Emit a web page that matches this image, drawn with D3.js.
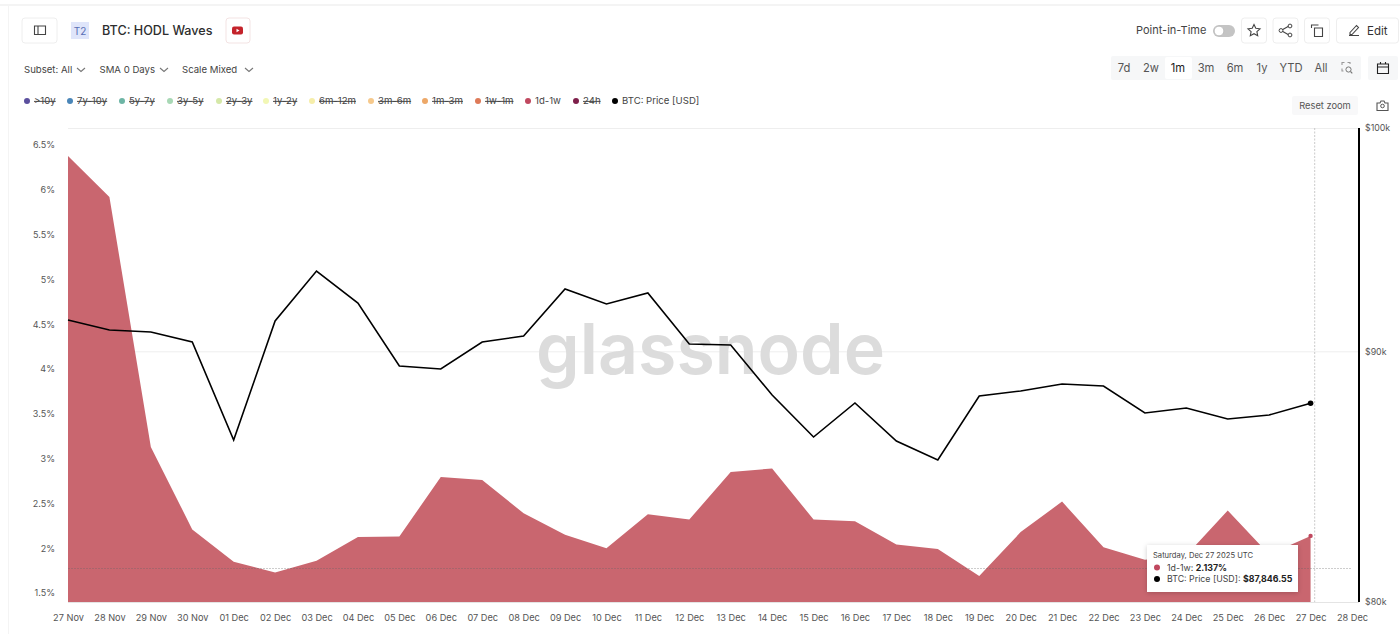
<!DOCTYPE html>
<html>
<head>
<meta charset="utf-8">
<title>BTC: HODL Waves</title>
<script src="https://cdn.jsdelivr.net/npm/d3@7/dist/d3.min.js"></script>
<style>
  html, body { margin: 0; padding: 0; background: #fff; }
  svg { display: block; font-family: Inter, "Noto Sans", sans-serif; }
  .axis path, .axis line { display: none; }
  .axis text { fill: #555; font-family: Inter, sans-serif; }
</style>
</head>
<body>
<svg id="chart" width="1400" height="634"></svg>
<script>
const dates = ['27 Nov', '28 Nov', '29 Nov', '30 Nov', '01 Dec', '02 Dec', '03 Dec', '04 Dec', '05 Dec', '06 Dec', '07 Dec',
  '08 Dec', '09 Dec', '10 Dec', '11 Dec', '12 Dec', '13 Dec', '14 Dec', '15 Dec', '16 Dec', '17 Dec', '18 Dec', '19 Dec',
  '20 Dec', '21 Dec', '22 Dec', '23 Dec', '24 Dec', '25 Dec', '26 Dec', '27 Dec', '28 Dec']
const share1d1w = [6.377, 5.92, 3.13, 2.21, 1.85, 1.73, 1.86, 2.125, 2.13, 2.795, 2.76, 2.39, 2.15, 2.0, 2.38, 2.32, 2.85,
  2.89, 2.32, 2.30, 2.04, 1.99, 1.69, 2.18, 2.52, 2.01, 1.87, 1.92, 2.42, 1.93, 2.137]
const btcPrice = [91358, 90928, 90843, 90417, 86340, 91314, 93490, 92092, 89401, 89275, 90417, 90672, 92701, 92048, 92526,
  90332, 90289, 88189, 86462, 87857, 86299, 85531, 88147, 88355, 88646, 88563, 87445, 87651, 87198, 87362, 87846.55]
const leftTicks = [1.5, 2, 2.5, 3, 3.5, 4, 4.5, 5, 5.5, 6, 6.5]
const rightTicks = [80000, 90000, 100000]
const legendNames = ['>10y', '7y-10y', '5y-7y', '3y-5y', '2y-3y', '1y-2y', '6m-12m', '3m-6m', '1m-3m', '1w-1m', '1d-1w', '24h', 'BTC: Price [USD]']
const legendColors = ['#5b4f9e', '#4a86b8', '#6db5a5', '#a8d8b5', '#d5e8a8', '#f2f7b5', '#f6eeaa', '#f6c98c', '#eda868', '#de7a58', '#c0485f', '#7e1f4a', '#000']
const legendActive = ['1d-1w', 'BTC: Price [USD]']
const legendX = [27, 70, 122, 170, 219, 266, 312, 371, 425, 478, 528, 576, 615]
const ranges = ['7d', '2w', '1m', '3m', '6m', '1y', 'YTD', 'All']
const rangeX = [1124, 1151, 1178, 1206, 1235, 1262, 1291, 1321]

const plotTop = 128, plotBottom = 602, plotLeft = 68, plotRight = 1359
const svg = d3.select('#chart')

const x = d3.scalePoint().domain(dates).range([68, 1352])
const yShare = d3.scaleLinear().domain([1.5, 6.5]).range([593, 145])
const yPrice = d3.scaleLog().domain([80000, 100000]).range([plotBottom, plotTop])

// page edges
svg.append('line').attr('x1', 0).attr('x2', 1400).attr('y1', 5).attr('y2', 5).attr('stroke', '#f0f0f0').attr('stroke-width', 1.5)
svg.append('line').attr('x1', 8.5).attr('x2', 8.5).attr('y1', 5).attr('y2', 634).attr('stroke', '#f4f4f4')

// ---- header ----
function box(x0, y0, w, h, fill, stroke) {
  return svg.append('rect').attr('x', x0).attr('y', y0).attr('width', w).attr('height', h).attr('rx', 3)
    .attr('fill', fill || '#fff').attr('stroke', stroke || '#eee')
}
function label(txt, x0, y0, size, color, anchor) {
  return svg.append('text').attr('x', x0).attr('y', y0).attr('dy', '0.35em').attr('font-size', size)
    .attr('fill', color || '#444').attr('text-anchor', anchor || 'start').text(txt)
}
function icon(d, tx, ty, color) {
  return svg.append('path').attr('d', d).attr('transform', `translate(${tx},${ty})`)
    .attr('fill', 'none').attr('stroke', color || '#444').attr('stroke-width', 1.1)
}

box(22, 18, 35, 25)
icon('M0 0h11v8.5h-11zM3.5 0v8.5', 34.5, 26)
svg.append('rect').attr('x', 71).attr('y', 22).attr('width', 18).attr('height', 17).attr('fill', '#dfe5fa')
label('T2', 80, 31, 10, '#5a6fb5', 'middle')
label('BTC: HODL Waves', 102, 30.5, 12.6, '#2e2e2e').attr('font-weight', 500)
box(226, 18, 24, 25, '#fff', '#f3e3e3')
svg.append('rect').attr('x', 232).attr('y', 26.5).attr('width', 11).attr('height', 8).attr('rx', 2).attr('fill', '#c4232b')
svg.append('path').attr('d', 'M236.5 28.7l3 1.8-3 1.8z').attr('fill', '#fff')

const filters = [['Subset: All', 24, 77], ['SMA 0 Days', 99.5, 160], ['Scale Mixed', 182, 245]]
filters.forEach(f => {
  label(f[0], f[1], 69.5, 9.6, '#444')
  icon('M0 0l4 3.5 4-3.5', f[2], 68, '#777')
})

label('Point-in-Time', 1136, 30.5, 11, '#444')
svg.append('rect').attr('x', 1213).attr('y', 25).attr('width', 22).attr('height', 12).attr('rx', 6).attr('fill', '#c4c4c4')
svg.append('circle').attr('cx', 1219).attr('cy', 31).attr('r', 4.8).attr('fill', '#fff').attr('stroke', '#aaa').attr('stroke-width', 0.6)
box(1241.5, 18, 25, 25)
icon('M6 0l1.8 3.8 4.2.5-3.1 2.8.8 4.1L6 9.2l-3.7 2 .8-4.1L0 4.3l4.2-.5z', 1248, 24.5)
box(1273, 18, 25, 25)
icon('M0 5.5L8 1M0 5.5L8 10', 1281, 25)
svg.append('g').selectAll('circle').data([[1281, 30.5], [1290, 26], [1290, 35]]).join('circle')
  .attr('cx', d => d[0]).attr('cy', d => d[1]).attr('r', 1.9).attr('fill', '#fff').attr('stroke', '#444')
box(1304.5, 18, 25, 25)
icon('M0 3V0h7M3 3h8v8.5H3z', 1311.5, 25)
box(1336.5, 18, 62, 25)
icon('M0 11h10M1 8l6.5-7 2 2-6.5 7H1z', 1349, 24.5)
label('Edit', 1367, 30.5, 11.5, '#333')

svg.append('rect').attr('x', 1111).attr('y', 56).attr('width', 250).attr('height', 24).attr('rx', 2).attr('fill', '#f6f7f8')
svg.append('rect').attr('x', 1165).attr('y', 57).attr('width', 27).attr('height', 22).attr('rx', 2).attr('fill', '#fff')
ranges.forEach((r, i) => label(r, rangeX[i], 68, 11.2, r === '1m' ? '#222' : '#555', 'middle'))
icon('M0 2.5V0h2.5M5.5 0H8v1.5M0 6v2.5h1.5', 1342, 62.5, '#999')
svg.append('circle').attr('cx', 1348.5).attr('cy', 69.5).attr('r', 2.6).attr('fill', 'none').attr('stroke', '#777')
icon('M350.5 71.5l1.8 1.8', 1000, 0, '#777')
svg.append('rect').attr('x', 1368).attr('y', 56).attr('width', 30).attr('height', 24).attr('rx', 2).attr('fill', '#f6f7f8')
icon('M0 2h11v9.5H0zM0 5h11M3 0v2M8 0v2', 1377.5, 62, '#222')

svg.append('rect').attr('x', 1292).attr('y', 96).attr('width', 66).attr('height', 19).attr('rx', 2).attr('fill', '#f8f8f9')
label('Reset zoom', 1325, 105.5, 9.3, '#555', 'middle')
icon('M0 2h3l1-2h3l1 2h3v7.5H0z', 1377, 101, '#555')
svg.append('circle').attr('cx', 1382.5).attr('cy', 106).attr('r', 1.8).attr('fill', 'none').attr('stroke', '#555')

// ---- legend ----
const legend = svg.append('g').selectAll('g').data(legendNames).join('g')
  .attr('transform', (d, i) => `translate(${legendX[i]},101)`)
legend.append('circle').attr('r', 3).attr('fill', (d, i) => legendColors[i])
legend.append('text').attr('x', 7).attr('dy', '0.35em').attr('font-size', 9.6).attr('fill', '#444')
  .attr('text-decoration', d => legendActive.includes(d) ? 'none' : 'line-through')
  .text(d => d)

// ---- plot frame ----
svg.append('line').attr('x1', plotLeft).attr('x2', plotRight).attr('y1', plotTop + 0.5).attr('y2', plotTop + 0.5).attr('stroke', '#eee')
svg.append('line').attr('x1', plotLeft).attr('x2', plotRight).attr('y1', yPrice(90000)).attr('y2', yPrice(90000)).attr('stroke', '#eee')
svg.append('line').attr('x1', plotLeft).attr('x2', plotRight).attr('y1', plotBottom + 0.5).attr('y2', plotBottom + 0.5).attr('stroke', '#e4e4e4')

// watermark
svg.append('text').attr('x', 536).attr('y', 374).attr('font-family', 'Inter, sans-serif').attr('font-size', 70)
  .attr('font-weight', 600).attr('fill', '#dcdcdc').attr('textLength', 349).attr('lengthAdjust', 'spacingAndGlyphs').text('glassnode')

// ---- series ----
const area = d3.area().x((d, i) => x(dates[i])).y0(plotBottom).y1(d => yShare(d))
svg.append('path').datum(share1d1w).attr('d', area).attr('fill', '#c9666f')

const line = d3.line().x((d, i) => x(dates[i])).y(d => yPrice(d))
svg.append('path').datum(btcPrice).attr('d', line).attr('fill', 'none').attr('stroke', '#000').attr('stroke-width', 1.6)

// crosshair
const lastDate = dates[share1d1w.length - 1]
svg.append('line').attr('x1', 68).attr('x2', 1352).attr('y1', 568.5).attr('y2', 568.5)
  .attr('stroke', '#666').attr('stroke-opacity', 0.55).attr('stroke-width', 0.6).attr('stroke-dasharray', '2 1')
svg.append('line').attr('x1', 1314.7).attr('x2', 1314.7).attr('y1', plotTop).attr('y2', plotBottom)
  .attr('stroke', '#bbb').attr('stroke-width', 0.8).attr('stroke-dasharray', '2 1.5')
svg.append('circle').attr('cx', x(lastDate)).attr('cy', yShare(share1d1w[30])).attr('r', 2.2).attr('fill', '#c0485f')
svg.append('circle').attr('cx', x(lastDate)).attr('cy', yPrice(btcPrice[30])).attr('r', 2.8).attr('fill', '#000')

// ---- axes ----
svg.append('g').attr('class', 'axis').attr('transform', 'translate(55,0)')
  .call(d3.axisLeft(yShare).tickValues(leftTicks).tickSize(0).tickPadding(0).tickFormat(d => d + '%'))
  .selectAll('text').attr('font-size', 9)
svg.append('g').attr('class', 'axis').attr('transform', 'translate(0,612)')
  .call(d3.axisBottom(x).tickSize(0).tickPadding(2))
  .selectAll('text').attr('font-size', 9.2)
svg.append('line').attr('x1', plotRight).attr('x2', plotRight).attr('y1', plotTop).attr('y2', plotBottom).attr('stroke', '#000').attr('stroke-width', 2)
svg.append('g').attr('class', 'axis').attr('transform', 'translate(1365,0)')
  .call(d3.axisRight(yPrice).tickValues(rightTicks).tickSize(0).tickPadding(0).tickFormat(d => '$' + d / 1000 + 'k'))
  .selectAll('text').attr('font-size', 8.8)

// ---- tooltip ----
const shadow = svg.append('defs').append('filter').attr('id', 'tipShadow')
  .attr('x', '-10%').attr('y', '-20%').attr('width', '120%').attr('height', '150%')
shadow.append('feDropShadow').attr('dx', 0).attr('dy', 1).attr('stdDeviation', 2.5).attr('flood-opacity', 0.2)
svg.append('rect').attr('x', 1147).attr('y', 545).attr('width', 151).attr('height', 47).attr('fill', '#fff').attr('filter', 'url(#tipShadow)')
label('Saturday, Dec 27 2025 UTC', 1153, 555.5, 7.6, '#444')
svg.append('circle').attr('cx', 1157).attr('cy', 567.5).attr('r', 3).attr('fill', '#c0485f')
svg.append('circle').attr('cx', 1157).attr('cy', 579).attr('r', 3).attr('fill', '#000')
const tip1 = label('1d-1w: ', 1167, 567.5, 8.8, '#444')
tip1.append('tspan').attr('font-weight', 700).attr('fill', '#222').text(share1d1w[30] + '%')
const tip2 = label('BTC: Price [USD]: ', 1167, 579, 8.8, '#444')
tip2.append('tspan').attr('font-weight', 700).attr('fill', '#222').text('$' + d3.format(',.2f')(btcPrice[30]))
</script>
</body>
</html>
